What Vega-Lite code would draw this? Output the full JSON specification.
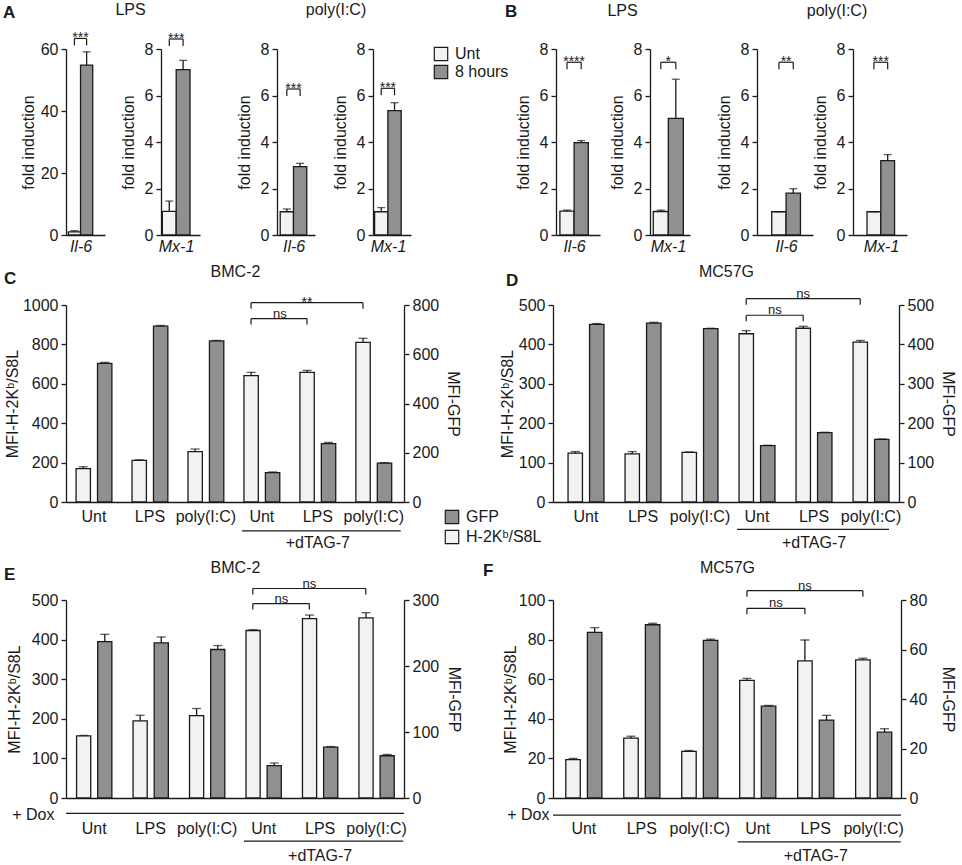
{
"$schema":"https://vega.github.io/schema/vega-lite/v6.json",
"padding":{"left":3,"top":2,"right":2,"bottom":2},
"config":{"font":"Liberation Sans","view":{"stroke":null},
"axis":{"domainColor":"#1a1a1a","domainWidth":1.3,"tickColor":"#1a1a1a","tickWidth":1.3,"tickSize":5,"labelFontSize":16,"labelColor":"#1a1a1a","labelPadding":3,"labelOverlap":false,"titleFontSize":16,"titleFontWeight":"normal","titleColor":"#1a1a1a","grid":false,"labelFont":"Liberation Sans","titleFont":"Liberation Sans"},
"title":{"fontSize":16,"fontWeight":"normal","color":"#1a1a1a","frame":"group","font":"Liberation Sans"},
"legend":{"symbolType":"square","symbolSize":180,"symbolStrokeColor":"#1a1a1a","symbolStrokeWidth":1.2,"labelFontSize":16,"labelColor":"#1a1a1a","labelFont":"Liberation Sans","labelOffset":6},
"text":{"color":"#1a1a1a","font":"Liberation Sans"}},
"datasets":{
"fold":[
{"panel":"A1","treatment":"Unt","value":1.0,"upper":1.4},{"panel":"A1","treatment":"8 hours","value":54.8,"upper":59.1},
{"panel":"A2","treatment":"Unt","value":1.02,"upper":1.46},{"panel":"A2","treatment":"8 hours","value":7.11,"upper":7.51},
{"panel":"A3","treatment":"Unt","value":1.0,"upper":1.12},{"panel":"A3","treatment":"8 hours","value":2.94,"upper":3.08},
{"panel":"A4","treatment":"Unt","value":1.0,"upper":1.18},{"panel":"A4","treatment":"8 hours","value":5.35,"upper":5.69},
{"panel":"B1","treatment":"Unt","value":1.03,"upper":1.07},{"panel":"B1","treatment":"8 hours","value":3.97,"upper":4.06},
{"panel":"B2","treatment":"Unt","value":1.01,"upper":1.07},{"panel":"B2","treatment":"8 hours","value":5.02,"upper":6.7},
{"panel":"B3","treatment":"Unt","value":1.0,"upper":1.0},{"panel":"B3","treatment":"8 hours","value":1.8,"upper":1.99},
{"panel":"B4","treatment":"Unt","value":1.0,"upper":1.0},{"panel":"B4","treatment":"8 hours","value":3.2,"upper":3.46}],
"foldsig":[
{"panel":"A1","from":"Unt","to":"8 hours","y":63.4,"label":"***"},
{"panel":"A2","from":"Unt","to":"8 hours","y":8.43,"label":"***"},
{"panel":"A3","from":"Unt","to":"8 hours","y":6.28,"label":"***"},
{"panel":"A4","from":"Unt","to":"8 hours","y":6.31,"label":"***"},
{"panel":"B1","from":"Unt","to":"8 hours","y":7.43,"label":"****"},
{"panel":"B2","from":"Unt","to":"8 hours","y":7.43,"label":"*"},
{"panel":"B3","from":"Unt","to":"8 hours","y":7.43,"label":"**"},
{"panel":"B4","from":"Unt","to":"8 hours","y":7.43,"label":"***"}],
"mfi":[
{"panel":"C","cond":"Unt","marker":"H-2Kᵇ/S8L","value":169,"upper":179},
{"panel":"C","cond":"LPS","marker":"H-2Kᵇ/S8L","value":211,"upper":214},
{"panel":"C","cond":"poly(I:C)","marker":"H-2Kᵇ/S8L","value":256,"upper":269},
{"panel":"C","cond":"Unt+dTAG-7","marker":"H-2Kᵇ/S8L","value":641,"upper":658},
{"panel":"C","cond":"LPS+dTAG-7","marker":"H-2Kᵇ/S8L","value":658,"upper":668},
{"panel":"C","cond":"poly(I:C)+dTAG-7","marker":"H-2Kᵇ/S8L","value":810,"upper":831},
{"panel":"C","cond":"Unt","marker":"GFP","value":563,"upper":567},
{"panel":"C","cond":"LPS","marker":"GFP","value":714,"upper":717},
{"panel":"C","cond":"poly(I:C)","marker":"GFP","value":654,"upper":656},
{"panel":"C","cond":"Unt+dTAG-7","marker":"GFP","value":119,"upper":122},
{"panel":"C","cond":"LPS+dTAG-7","marker":"GFP","value":237,"upper":242},
{"panel":"C","cond":"poly(I:C)+dTAG-7","marker":"GFP","value":158,"upper":160},
{"panel":"D","cond":"Unt","marker":"H-2Kᵇ/S8L","value":124,"upper":128},
{"panel":"D","cond":"LPS","marker":"H-2Kᵇ/S8L","value":122,"upper":128},
{"panel":"D","cond":"poly(I:C)","marker":"H-2Kᵇ/S8L","value":126,"upper":127},
{"panel":"D","cond":"Unt+dTAG-7","marker":"H-2Kᵇ/S8L","value":427,"upper":435},
{"panel":"D","cond":"LPS+dTAG-7","marker":"H-2Kᵇ/S8L","value":441,"upper":446},
{"panel":"D","cond":"poly(I:C)+dTAG-7","marker":"H-2Kᵇ/S8L","value":406,"upper":410},
{"panel":"D","cond":"Unt","marker":"GFP","value":451,"upper":453},
{"panel":"D","cond":"LPS","marker":"GFP","value":454,"upper":456},
{"panel":"D","cond":"poly(I:C)","marker":"GFP","value":440,"upper":441},
{"panel":"D","cond":"Unt+dTAG-7","marker":"GFP","value":143,"upper":144},
{"panel":"D","cond":"LPS+dTAG-7","marker":"GFP","value":176,"upper":177},
{"panel":"D","cond":"poly(I:C)+dTAG-7","marker":"GFP","value":159,"upper":160},
{"panel":"E","cond":"Unt","marker":"H-2Kᵇ/S8L","value":157,"upper":158},
{"panel":"E","cond":"LPS","marker":"H-2Kᵇ/S8L","value":195,"upper":209},
{"panel":"E","cond":"poly(I:C)","marker":"H-2Kᵇ/S8L","value":208,"upper":226},
{"panel":"E","cond":"Unt+dTAG-7","marker":"H-2Kᵇ/S8L","value":423,"upper":425},
{"panel":"E","cond":"LPS+dTAG-7","marker":"H-2Kᵇ/S8L","value":453,"upper":462},
{"panel":"E","cond":"poly(I:C)+dTAG-7","marker":"H-2Kᵇ/S8L","value":455,"upper":468},
{"panel":"E","cond":"Unt","marker":"GFP","value":237,"upper":248},
{"panel":"E","cond":"LPS","marker":"GFP","value":235,"upper":244},
{"panel":"E","cond":"poly(I:C)","marker":"GFP","value":225,"upper":231},
{"panel":"E","cond":"Unt+dTAG-7","marker":"GFP","value":49,"upper":53},
{"panel":"E","cond":"LPS+dTAG-7","marker":"GFP","value":77,"upper":78},
{"panel":"E","cond":"poly(I:C)+dTAG-7","marker":"GFP","value":64,"upper":66},
{"panel":"F","cond":"Unt","marker":"H-2Kᵇ/S8L","value":19.4,"upper":20},
{"panel":"F","cond":"LPS","marker":"H-2Kᵇ/S8L","value":30.2,"upper":31.2},
{"panel":"F","cond":"poly(I:C)","marker":"H-2Kᵇ/S8L","value":23.5,"upper":24},
{"panel":"F","cond":"Unt+dTAG-7","marker":"H-2Kᵇ/S8L","value":59.4,"upper":60.4},
{"panel":"F","cond":"LPS+dTAG-7","marker":"H-2Kᵇ/S8L","value":69.3,"upper":79.8},
{"panel":"F","cond":"poly(I:C)+dTAG-7","marker":"H-2Kᵇ/S8L","value":69.8,"upper":70.6},
{"panel":"F","cond":"Unt","marker":"GFP","value":66.9,"upper":68.8},
{"panel":"F","cond":"LPS","marker":"GFP","value":70,"upper":70.6},
{"panel":"F","cond":"poly(I:C)","marker":"GFP","value":63.7,"upper":64.2},
{"panel":"F","cond":"Unt+dTAG-7","marker":"GFP","value":37.1,"upper":37.4},
{"panel":"F","cond":"LPS+dTAG-7","marker":"GFP","value":31.5,"upper":33.4},
{"panel":"F","cond":"poly(I:C)+dTAG-7","marker":"GFP","value":26.6,"upper":28}],
"mfisig":[
{"panel":"C","kind":"wide","from":"Unt+dTAG-7","to":"poly(I:C)+dTAG-7","mid":"LPS+dTAG-7","y":1012,"label":"**"},
{"panel":"C","kind":"narrow","from":"Unt+dTAG-7","to":"LPS+dTAG-7","mid":"Unt+dTAG-7","y":931,"label":"ns"},
{"panel":"D","kind":"wide","from":"Unt+dTAG-7","to":"poly(I:C)+dTAG-7","mid":"LPS+dTAG-7","y":516,"label":"ns"},
{"panel":"D","kind":"narrow","from":"Unt+dTAG-7","to":"LPS+dTAG-7","mid":"Unt+dTAG-7","y":474,"label":"ns"},
{"panel":"E","kind":"wide","from":"Unt+dTAG-7","to":"poly(I:C)+dTAG-7","mid":"LPS+dTAG-7","y":529,"label":"ns"},
{"panel":"E","kind":"narrow","from":"Unt+dTAG-7","to":"LPS+dTAG-7","mid":"Unt+dTAG-7","y":491,"label":"ns"},
{"panel":"F","kind":"wide","from":"Unt+dTAG-7","to":"poly(I:C)+dTAG-7","mid":"LPS+dTAG-7","y":104.7,"label":"ns"},
{"panel":"F","kind":"narrow","from":"Unt+dTAG-7","to":"LPS+dTAG-7","mid":"Unt+dTAG-7","y":95.8,"label":"ns"}]
},
"spacing":9,
"resolve":{"scale":{"color":"independent","xOffset":"independent"},"legend":{"color":"independent"}},
"vconcat":[
{"bounds":"flush","spacing":40,"resolve":{"scale":{"color":"independent"},"legend":{"color":"independent"}},"hconcat":[
   {"width":55,"height":186,"title":{"text":"A","anchor":"start","align":"left","dx":-63,"fontWeight":"bold","fontSize":17,"offset":9},"layer":[
    {"data":{"name":"fold"},"transform":[{"filter":"datum.panel == 'A1'"}],"mark":{"type":"bar","stroke":"#1a1a1a","strokeWidth":1.3},"encoding":{"x":{"field":"treatment","type":"nominal","scale":{"domain":["Unt","8 hours"],"range":[0,39],"paddingInner":0,"paddingOuter":0.6,"align":0.16},"axis":{"labels":false,"ticks":false,"title":"Il-6","titleFontStyle":"italic","titleX":14.5,"titlePadding":3}},"y":{"field":"value","type":"quantitative","scale":{"domain":[0,60]},"axis":{"values":[0,20,40,60],"tickCount":12,"format":"d","title":"fold induction","titlePadding":4}},"color":{"field":"treatment","type":"nominal","scale":{"domain":["Unt","8 hours"],"range":["#f2f2f2","#909090"]},"legend":null}}},
    {"data":{"name":"fold"},"transform":[{"filter":"datum.panel == 'A1'"}],"mark":{"type":"rule","color":"#1a1a1a","strokeWidth":1.3},"encoding":{"x":{"field":"treatment","type":"nominal"},"y":{"field":"value","type":"quantitative"},"y2":{"field":"upper"}}},
    {"data":{"name":"fold"},"transform":[{"filter":"datum.panel == 'A1'"}],"mark":{"type":"tick","color":"#1a1a1a","size":8,"thickness":1.3},"encoding":{"x":{"field":"treatment","type":"nominal"},"y":{"field":"upper","type":"quantitative"}}},
    {"data":{"name":"foldsig"},"transform":[{"filter":"datum.panel == 'A1'"}],"mark":{"type":"rule","color":"#1a1a1a","strokeWidth":1.2},"encoding":{"x":{"field":"from","type":"nominal"},"x2":{"field":"to"},"y":{"field":"y","type":"quantitative"}}},
    {"data":{"name":"foldsig"},"transform":[{"filter":"datum.panel == 'A1'"},{"fold":["from","to"],"as":["end","pos"]}],"mark":{"type":"rule","color":"#1a1a1a","strokeWidth":1.2,"y2Offset":7},"encoding":{"x":{"field":"pos","type":"nominal"},"y":{"field":"y","type":"quantitative"},"y2":{"field":"y"}}},
    {"data":{"name":"foldsig"},"transform":[{"filter":"datum.panel == 'A1'"}],"mark":{"type":"text","fontSize":14,"color":"#1a1a1a"},"encoding":{"x":{"field":"from","type":"nominal","bandPosition":1},"y":{"field":"y","type":"quantitative"},"text":{"field":"label"}}}
   ]},
   {"width":76,"height":186,"title":{"text":"LPS","anchor":"start","align":"center","dx":-30.5,"offset":14},"layer":[
    {"data":{"name":"fold"},"transform":[{"filter":"datum.panel == 'A2'"}],"mark":{"type":"bar","stroke":"#1a1a1a","strokeWidth":1.3},"encoding":{"x":{"field":"treatment","type":"nominal","scale":{"domain":["Unt","8 hours"],"range":[0,39],"paddingInner":0,"paddingOuter":0.41,"align":0.12},"axis":{"labels":false,"ticks":false,"title":"Mx-1","titleFontStyle":"italic","titleX":15,"titlePadding":3}},"y":{"field":"value","type":"quantitative","scale":{"domain":[0,8]},"axis":{"values":[0,2,4,6,8],"tickCount":12,"format":"d","title":"fold induction","titlePadding":8}},"color":{"field":"treatment","type":"nominal","scale":{"domain":["Unt","8 hours"],"range":["#f2f2f2","#909090"]},"legend":null}}},
    {"data":{"name":"fold"},"transform":[{"filter":"datum.panel == 'A2'"}],"mark":{"type":"rule","color":"#1a1a1a","strokeWidth":1.3},"encoding":{"x":{"field":"treatment","type":"nominal"},"y":{"field":"value","type":"quantitative"},"y2":{"field":"upper"}}},
    {"data":{"name":"fold"},"transform":[{"filter":"datum.panel == 'A2'"}],"mark":{"type":"tick","color":"#1a1a1a","size":8,"thickness":1.3},"encoding":{"x":{"field":"treatment","type":"nominal"},"y":{"field":"upper","type":"quantitative"}}},
    {"data":{"name":"foldsig"},"transform":[{"filter":"datum.panel == 'A2'"}],"mark":{"type":"rule","color":"#1a1a1a","strokeWidth":1.2},"encoding":{"x":{"field":"from","type":"nominal"},"x2":{"field":"to"},"y":{"field":"y","type":"quantitative"}}},
    {"data":{"name":"foldsig"},"transform":[{"filter":"datum.panel == 'A2'"},{"fold":["from","to"],"as":["end","pos"]}],"mark":{"type":"rule","color":"#1a1a1a","strokeWidth":1.2,"y2Offset":7},"encoding":{"x":{"field":"pos","type":"nominal"},"y":{"field":"y","type":"quantitative"},"y2":{"field":"y"}}},
    {"data":{"name":"foldsig"},"transform":[{"filter":"datum.panel == 'A2'"}],"mark":{"type":"text","fontSize":14,"color":"#1a1a1a"},"encoding":{"x":{"field":"from","type":"nominal","bandPosition":1},"y":{"field":"y","type":"quantitative"},"text":{"field":"label"}}}
   ]},
   {"width":56,"height":186,"title":{"text":"poly(I:C)","anchor":"start","align":"center","dx":59,"offset":23},"layer":[
    {"data":{"name":"fold"},"transform":[{"filter":"datum.panel == 'A3'"}],"mark":{"type":"bar","stroke":"#1a1a1a","strokeWidth":1.3},"encoding":{"x":{"field":"treatment","type":"nominal","scale":{"domain":["Unt","8 hours"],"range":[0,38],"paddingInner":0,"paddingOuter":0.43,"align":0.28},"axis":{"labels":false,"ticks":false,"title":"Il-6","titleFontStyle":"italic","titleX":16.6,"titlePadding":3}},"y":{"field":"value","type":"quantitative","scale":{"domain":[0,8]},"axis":{"values":[0,2,4,6,8],"tickCount":12,"format":"d","title":"fold induction","titlePadding":8}},"color":{"field":"treatment","type":"nominal","scale":{"domain":["Unt","8 hours"],"range":["#f2f2f2","#909090"]},"legend":null}}},
    {"data":{"name":"fold"},"transform":[{"filter":"datum.panel == 'A3'"}],"mark":{"type":"rule","color":"#1a1a1a","strokeWidth":1.3},"encoding":{"x":{"field":"treatment","type":"nominal"},"y":{"field":"value","type":"quantitative"},"y2":{"field":"upper"}}},
    {"data":{"name":"fold"},"transform":[{"filter":"datum.panel == 'A3'"}],"mark":{"type":"tick","color":"#1a1a1a","size":8,"thickness":1.3},"encoding":{"x":{"field":"treatment","type":"nominal"},"y":{"field":"upper","type":"quantitative"}}},
    {"data":{"name":"foldsig"},"transform":[{"filter":"datum.panel == 'A3'"}],"mark":{"type":"rule","color":"#1a1a1a","strokeWidth":1.2},"encoding":{"x":{"field":"from","type":"nominal"},"x2":{"field":"to"},"y":{"field":"y","type":"quantitative"}}},
    {"data":{"name":"foldsig"},"transform":[{"filter":"datum.panel == 'A3'"},{"fold":["from","to"],"as":["end","pos"]}],"mark":{"type":"rule","color":"#1a1a1a","strokeWidth":1.2,"y2Offset":7},"encoding":{"x":{"field":"pos","type":"nominal"},"y":{"field":"y","type":"quantitative"},"y2":{"field":"y"}}},
    {"data":{"name":"foldsig"},"transform":[{"filter":"datum.panel == 'A3'"}],"mark":{"type":"text","fontSize":14,"color":"#1a1a1a"},"encoding":{"x":{"field":"from","type":"nominal","bandPosition":1},"y":{"field":"y","type":"quantitative"},"text":{"field":"label"}}}
   ]},
   {"width":143,"height":186,"layer":[
    {"data":{"name":"fold"},"transform":[{"filter":"datum.panel == 'A4'"}],"mark":{"type":"bar","stroke":"#1a1a1a","strokeWidth":1.3},"encoding":{"x":{"field":"treatment","type":"nominal","scale":{"domain":["Unt","8 hours"],"range":[0,38],"paddingInner":0,"paddingOuter":0.43,"align":0.14},"axis":{"labels":false,"ticks":false,"title":"Mx-1","titleFontStyle":"italic","titleX":15,"titlePadding":3}},"y":{"field":"value","type":"quantitative","scale":{"domain":[0,8]},"axis":{"values":[0,2,4,6,8],"tickCount":12,"format":"d","title":"fold induction","titlePadding":8}},"color":{"field":"treatment","type":"nominal","scale":{"domain":["Unt","8 hours"],"range":["#f2f2f2","#909090"]},"legend":{"orient":"none","legendX":60,"legendY":-3,"title":null,"rowPadding":-3}}}},
    {"data":{"name":"fold"},"transform":[{"filter":"datum.panel == 'A4'"}],"mark":{"type":"rule","color":"#1a1a1a","strokeWidth":1.3},"encoding":{"x":{"field":"treatment","type":"nominal"},"y":{"field":"value","type":"quantitative"},"y2":{"field":"upper"}}},
    {"data":{"name":"fold"},"transform":[{"filter":"datum.panel == 'A4'"}],"mark":{"type":"tick","color":"#1a1a1a","size":8,"thickness":1.3},"encoding":{"x":{"field":"treatment","type":"nominal"},"y":{"field":"upper","type":"quantitative"}}},
    {"data":{"name":"foldsig"},"transform":[{"filter":"datum.panel == 'A4'"}],"mark":{"type":"rule","color":"#1a1a1a","strokeWidth":1.2},"encoding":{"x":{"field":"from","type":"nominal"},"x2":{"field":"to"},"y":{"field":"y","type":"quantitative"}}},
    {"data":{"name":"foldsig"},"transform":[{"filter":"datum.panel == 'A4'"},{"fold":["from","to"],"as":["end","pos"]}],"mark":{"type":"rule","color":"#1a1a1a","strokeWidth":1.2,"y2Offset":7},"encoding":{"x":{"field":"pos","type":"nominal"},"y":{"field":"y","type":"quantitative"},"y2":{"field":"y"}}},
    {"data":{"name":"foldsig"},"transform":[{"filter":"datum.panel == 'A4'"}],"mark":{"type":"text","fontSize":14,"color":"#1a1a1a"},"encoding":{"x":{"field":"from","type":"nominal","bandPosition":1},"y":{"field":"y","type":"quantitative"},"text":{"field":"label"}}}
   ]},
   {"width":54,"height":186,"title":{"text":"B","anchor":"start","align":"left","dx":-51,"fontWeight":"bold","fontSize":17,"offset":20},"layer":[
    {"data":{"name":"fold"},"transform":[{"filter":"datum.panel == 'B1'"}],"mark":{"type":"bar","stroke":"#1a1a1a","strokeWidth":1.3},"encoding":{"x":{"field":"treatment","type":"nominal","scale":{"domain":["Unt","8 hours"],"range":[0,44],"paddingInner":0,"paddingOuter":0.55,"align":0.25},"axis":{"labels":false,"ticks":false,"title":"Il-6","titleFontStyle":"italic","titleX":18,"titlePadding":3}},"y":{"field":"value","type":"quantitative","scale":{"domain":[0,8]},"axis":{"values":[0,2,4,6,8],"tickCount":12,"format":"d","title":"fold induction","titlePadding":8}},"color":{"field":"treatment","type":"nominal","scale":{"domain":["Unt","8 hours"],"range":["#f2f2f2","#909090"]},"legend":null}}},
    {"data":{"name":"fold"},"transform":[{"filter":"datum.panel == 'B1'"}],"mark":{"type":"rule","color":"#1a1a1a","strokeWidth":1.3},"encoding":{"x":{"field":"treatment","type":"nominal"},"y":{"field":"value","type":"quantitative"},"y2":{"field":"upper"}}},
    {"data":{"name":"fold"},"transform":[{"filter":"datum.panel == 'B1'"}],"mark":{"type":"tick","color":"#1a1a1a","size":8,"thickness":1.3},"encoding":{"x":{"field":"treatment","type":"nominal"},"y":{"field":"upper","type":"quantitative"}}},
    {"data":{"name":"foldsig"},"transform":[{"filter":"datum.panel == 'B1'"}],"mark":{"type":"rule","color":"#1a1a1a","strokeWidth":1.2},"encoding":{"x":{"field":"from","type":"nominal"},"x2":{"field":"to"},"y":{"field":"y","type":"quantitative"}}},
    {"data":{"name":"foldsig"},"transform":[{"filter":"datum.panel == 'B1'"},{"fold":["from","to"],"as":["end","pos"]}],"mark":{"type":"rule","color":"#1a1a1a","strokeWidth":1.2,"y2Offset":7},"encoding":{"x":{"field":"pos","type":"nominal"},"y":{"field":"y","type":"quantitative"},"y2":{"field":"y"}}},
    {"data":{"name":"foldsig"},"transform":[{"filter":"datum.panel == 'B1'"}],"mark":{"type":"text","fontSize":14,"color":"#1a1a1a"},"encoding":{"x":{"field":"from","type":"nominal","bandPosition":1},"y":{"field":"y","type":"quantitative"},"text":{"field":"label"}}}
   ]},
   {"width":67,"height":186,"title":{"text":"LPS","anchor":"start","align":"center","dx":-27.5,"offset":22.5},"layer":[
    {"data":{"name":"fold"},"transform":[{"filter":"datum.panel == 'B2'"}],"mark":{"type":"bar","stroke":"#1a1a1a","strokeWidth":1.3},"encoding":{"x":{"field":"treatment","type":"nominal","scale":{"domain":["Unt","8 hours"],"range":[0,40],"paddingInner":0,"paddingOuter":0.33,"align":0.33},"axis":{"labels":false,"ticks":false,"title":"Mx-1","titleFontStyle":"italic","titleX":18,"titlePadding":3}},"y":{"field":"value","type":"quantitative","scale":{"domain":[0,8]},"axis":{"values":[0,2,4,6,8],"tickCount":12,"format":"d","title":"fold induction","titlePadding":8}},"color":{"field":"treatment","type":"nominal","scale":{"domain":["Unt","8 hours"],"range":["#f2f2f2","#909090"]},"legend":null}}},
    {"data":{"name":"fold"},"transform":[{"filter":"datum.panel == 'B2'"}],"mark":{"type":"rule","color":"#1a1a1a","strokeWidth":1.3},"encoding":{"x":{"field":"treatment","type":"nominal"},"y":{"field":"value","type":"quantitative"},"y2":{"field":"upper"}}},
    {"data":{"name":"fold"},"transform":[{"filter":"datum.panel == 'B2'"}],"mark":{"type":"tick","color":"#1a1a1a","size":8,"thickness":1.3},"encoding":{"x":{"field":"treatment","type":"nominal"},"y":{"field":"upper","type":"quantitative"}}},
    {"data":{"name":"foldsig"},"transform":[{"filter":"datum.panel == 'B2'"}],"mark":{"type":"rule","color":"#1a1a1a","strokeWidth":1.2},"encoding":{"x":{"field":"from","type":"nominal"},"x2":{"field":"to"},"y":{"field":"y","type":"quantitative"}}},
    {"data":{"name":"foldsig"},"transform":[{"filter":"datum.panel == 'B2'"},{"fold":["from","to"],"as":["end","pos"]}],"mark":{"type":"rule","color":"#1a1a1a","strokeWidth":1.2,"y2Offset":7},"encoding":{"x":{"field":"pos","type":"nominal"},"y":{"field":"y","type":"quantitative"},"y2":{"field":"y"}}},
    {"data":{"name":"foldsig"},"transform":[{"filter":"datum.panel == 'B2'"}],"mark":{"type":"text","fontSize":14,"color":"#1a1a1a"},"encoding":{"x":{"field":"from","type":"nominal","bandPosition":1},"y":{"field":"y","type":"quantitative"},"text":{"field":"label"}}}
   ]},
   {"width":56,"height":186,"title":{"text":"poly(I:C)","anchor":"start","align":"center","dx":80,"offset":22.5},"layer":[
    {"data":{"name":"fold"},"transform":[{"filter":"datum.panel == 'B3'"}],"mark":{"type":"bar","stroke":"#1a1a1a","strokeWidth":1.3},"encoding":{"x":{"field":"treatment","type":"nominal","scale":{"domain":["Unt","8 hours"],"range":[0,56],"paddingInner":0,"paddingOuter":0.95,"align":0.54},"axis":{"labels":false,"ticks":false,"title":"Il-6","titleFontStyle":"italic","titleX":29,"titlePadding":3}},"y":{"field":"value","type":"quantitative","scale":{"domain":[0,8]},"axis":{"values":[0,2,4,6,8],"tickCount":12,"format":"d","title":"fold induction","titlePadding":8}},"color":{"field":"treatment","type":"nominal","scale":{"domain":["Unt","8 hours"],"range":["#f2f2f2","#909090"]},"legend":null}}},
    {"data":{"name":"fold"},"transform":[{"filter":"datum.panel == 'B3'"}],"mark":{"type":"rule","color":"#1a1a1a","strokeWidth":1.3},"encoding":{"x":{"field":"treatment","type":"nominal"},"y":{"field":"value","type":"quantitative"},"y2":{"field":"upper"}}},
    {"data":{"name":"fold"},"transform":[{"filter":"datum.panel == 'B3'"}],"mark":{"type":"tick","color":"#1a1a1a","size":8,"thickness":1.3},"encoding":{"x":{"field":"treatment","type":"nominal"},"y":{"field":"upper","type":"quantitative"}}},
    {"data":{"name":"foldsig"},"transform":[{"filter":"datum.panel == 'B3'"}],"mark":{"type":"rule","color":"#1a1a1a","strokeWidth":1.2},"encoding":{"x":{"field":"from","type":"nominal"},"x2":{"field":"to"},"y":{"field":"y","type":"quantitative"}}},
    {"data":{"name":"foldsig"},"transform":[{"filter":"datum.panel == 'B3'"},{"fold":["from","to"],"as":["end","pos"]}],"mark":{"type":"rule","color":"#1a1a1a","strokeWidth":1.2,"y2Offset":7},"encoding":{"x":{"field":"pos","type":"nominal"},"y":{"field":"y","type":"quantitative"},"y2":{"field":"y"}}},
    {"data":{"name":"foldsig"},"transform":[{"filter":"datum.panel == 'B3'"}],"mark":{"type":"text","fontSize":14,"color":"#1a1a1a"},"encoding":{"x":{"field":"from","type":"nominal","bandPosition":1},"y":{"field":"y","type":"quantitative"},"text":{"field":"label"}}}
   ]},
   {"width":54,"height":186,"layer":[
    {"data":{"name":"fold"},"transform":[{"filter":"datum.panel == 'B4'"}],"mark":{"type":"bar","stroke":"#1a1a1a","strokeWidth":1.3},"encoding":{"x":{"field":"treatment","type":"nominal","scale":{"domain":["Unt","8 hours"],"range":[0,54],"paddingInner":0,"paddingOuter":0.96,"align":0.53},"axis":{"labels":false,"ticks":false,"title":"Mx-1","titleFontStyle":"italic","titleX":28,"titlePadding":3}},"y":{"field":"value","type":"quantitative","scale":{"domain":[0,8]},"axis":{"values":[0,2,4,6,8],"tickCount":12,"format":"d","title":"fold induction","titlePadding":8}},"color":{"field":"treatment","type":"nominal","scale":{"domain":["Unt","8 hours"],"range":["#f2f2f2","#909090"]},"legend":null}}},
    {"data":{"name":"fold"},"transform":[{"filter":"datum.panel == 'B4'"}],"mark":{"type":"rule","color":"#1a1a1a","strokeWidth":1.3},"encoding":{"x":{"field":"treatment","type":"nominal"},"y":{"field":"value","type":"quantitative"},"y2":{"field":"upper"}}},
    {"data":{"name":"fold"},"transform":[{"filter":"datum.panel == 'B4'"}],"mark":{"type":"tick","color":"#1a1a1a","size":8,"thickness":1.3},"encoding":{"x":{"field":"treatment","type":"nominal"},"y":{"field":"upper","type":"quantitative"}}},
    {"data":{"name":"foldsig"},"transform":[{"filter":"datum.panel == 'B4'"}],"mark":{"type":"rule","color":"#1a1a1a","strokeWidth":1.2},"encoding":{"x":{"field":"from","type":"nominal"},"x2":{"field":"to"},"y":{"field":"y","type":"quantitative"}}},
    {"data":{"name":"foldsig"},"transform":[{"filter":"datum.panel == 'B4'"},{"fold":["from","to"],"as":["end","pos"]}],"mark":{"type":"rule","color":"#1a1a1a","strokeWidth":1.2,"y2Offset":7},"encoding":{"x":{"field":"pos","type":"nominal"},"y":{"field":"y","type":"quantitative"},"y2":{"field":"y"}}},
    {"data":{"name":"foldsig"},"transform":[{"filter":"datum.panel == 'B4'"}],"mark":{"type":"text","fontSize":14,"color":"#1a1a1a"},"encoding":{"x":{"field":"from","type":"nominal","bandPosition":1},"y":{"field":"y","type":"quantitative"},"text":{"field":"label"}}}
   ]}
]},
{"columns":2,"bounds":"flush","spacing":{"row":98,"column":149},"resolve":{"scale":{"color":"independent","xOffset":"independent"},"legend":{"color":"independent"}},"concat":[
   {"width":338,"height":197,"title":{"text":"C","anchor":"start","align":"left","dx":-62,"fontWeight":"bold","fontSize":17,"offset":-25},"resolve":{"scale":{"y":"independent"},"axis":{"x":"independent"}},"layer":[
    {"layer":[
     {"data":{"name":"mfi"},"transform":[{"filter":"datum.panel == 'C' && datum.marker != 'GFP'"}],"mark":{"type":"bar","stroke":"#1a1a1a","strokeWidth":1.3},"encoding":{
      "x":{"field":"cond","type":"nominal","scale":{"domain":["Unt","LPS","poly(I:C)","Unt+dTAG-7","LPS+dTAG-7","poly(I:C)+dTAG-7"],"paddingInner":0.36,"paddingOuter":0.2,"align":0.45},"axis":{"title":null,"ticks":false,"labelAngle":0,"labelOverlap":false,"labelPadding":6,"labelExpr":"replace(datum.label, '+dTAG-7', '')"}},
      "xOffset":{"field":"marker","type":"nominal","scale":{"domain":["H-2Kᵇ/S8L","GFP"],"paddingInner":0.33}},
      "y":{"field":"value","type":"quantitative","scale":{"domain":[0,1000]},"axis":{"orient":"left","values":[0,200,400,600,800,1000],"tickCount":12,"format":"d","title":"MFI-H-2Kᵇ/S8L","titlePadding":2}},
      "color":{"field":"marker","type":"nominal","scale":{"domain":["GFP","H-2Kᵇ/S8L"],"range":["#909090","#f2f2f2"]},"legend":{"orient":"none","legendX":378,"legendY":204,"title":null,"rowPadding":0}}}},
     {"data":{"name":"mfi"},"transform":[{"filter":"datum.panel == 'C' && datum.marker != 'GFP'"}],"mark":{"type":"rule","color":"#1a1a1a","strokeWidth":1.3},"encoding":{"x":{"field":"cond","type":"nominal"},"xOffset":{"field":"marker","type":"nominal"},"y":{"field":"value","type":"quantitative"},"y2":{"field":"upper"}}},
     {"data":{"name":"mfi"},"transform":[{"filter":"datum.panel == 'C' && datum.marker != 'GFP'"}],"mark":{"type":"tick","color":"#1a1a1a","size":9,"thickness":1.3},"encoding":{"x":{"field":"cond","type":"nominal"},"xOffset":{"field":"marker","type":"nominal"},"y":{"field":"upper","type":"quantitative"}}},
     {"data":{"name":"mfisig"},"transform":[{"filter":"datum.panel == 'C'"}],"mark":{"type":"rule","color":"#1a1a1a","strokeWidth":1.2,"xOffset":-10.8,"x2Offset":-10.8},"encoding":{"x":{"field":"from","type":"nominal"},"x2":{"field":"to"},"y":{"field":"y","type":"quantitative"}}},
     {"data":{"name":"mfisig"},"transform":[{"filter":"datum.panel == 'C'"},{"fold":["from","to"],"as":["end","pos"]}],"mark":{"type":"rule","color":"#1a1a1a","strokeWidth":1.2,"xOffset":-10.8,"y2Offset":6},"encoding":{"x":{"field":"pos","type":"nominal"},"y":{"field":"y","type":"quantitative"},"y2":{"field":"y"}}},
     {"data":{"name":"mfisig"},"transform":[{"filter":"datum.panel == 'C' && datum.kind == 'narrow'"}],"mark":{"type":"text","fontSize":13,"dy":-5,"color":"#1a1a1a"},"encoding":{"x":{"field":"from","type":"nominal","bandPosition":1},"y":{"field":"y","type":"quantitative"},"text":{"field":"label"}}},
     {"data":{"name":"mfisig"},"transform":[{"filter":"datum.panel == 'C' && datum.kind == 'wide'"}],"mark":{"type":"text","fontSize":14,"dy":0,"xOffset":-10.8,"color":"#1a1a1a"},"encoding":{"x":{"field":"mid","type":"nominal"},"y":{"field":"y","type":"quantitative"},"text":{"field":"label"}}},
     {"data":{"values":[{}]},"mark":{"type":"rule","color":"#1a1a1a","strokeWidth":1.3,"xOffset":-2,"x2Offset":9},"encoding":{"x":{"datum":"Unt+dTAG-7","type":"nominal","bandPosition":0},"x2":{"datum":"poly(I:C)+dTAG-7","bandPosition":1},"y":{"datum":-147,"type":"quantitative"}}},
     {"data":{"values":[{}]},"mark":{"type":"text","fontSize":16,"color":"#1a1a1a","text":"+dTAG-7"},"encoding":{"x":{"datum":"LPS+dTAG-7","type":"nominal"},"y":{"datum":-207,"type":"quantitative"}}}
    ]},
    {"layer":[
     {"data":{"name":"mfi"},"transform":[{"filter":"datum.panel == 'C' && datum.marker == 'GFP'"}],"mark":{"type":"bar","stroke":"#1a1a1a","strokeWidth":1.3},"encoding":{
      "x":{"field":"cond","type":"nominal","axis":{"orient":"top","title":"BMC-2","labels":false,"ticks":false,"domain":false,"titlePadding":26}},
      "xOffset":{"field":"marker","type":"nominal"},
      "y":{"field":"value","type":"quantitative","scale":{"domain":[0,800]},"axis":{"orient":"right","values":[0,200,400,600,800],"tickCount":12,"format":"d","title":"MFI-GFP","titlePadding":6}},
      "color":{"field":"marker","type":"nominal","scale":{"domain":["GFP","H-2Kᵇ/S8L"],"range":["#909090","#f2f2f2"]},"legend":{"orient":"none","legendX":378,"legendY":204,"title":null,"rowPadding":0}}}},
     {"data":{"name":"mfi"},"transform":[{"filter":"datum.panel == 'C' && datum.marker == 'GFP'"}],"mark":{"type":"rule","color":"#1a1a1a","strokeWidth":1.3},"encoding":{"x":{"field":"cond","type":"nominal"},"xOffset":{"field":"marker","type":"nominal"},"y":{"field":"value","type":"quantitative"},"y2":{"field":"upper"}}},
     {"data":{"name":"mfi"},"transform":[{"filter":"datum.panel == 'C' && datum.marker == 'GFP'"}],"mark":{"type":"tick","color":"#1a1a1a","size":9,"thickness":1.3},"encoding":{"x":{"field":"cond","type":"nominal"},"xOffset":{"field":"marker","type":"nominal"},"y":{"field":"upper","type":"quantitative"}}}
    ]}
   ]},
   {"width":346,"height":197,"title":{"text":"D","anchor":"start","align":"left","dx":-47,"fontWeight":"bold","fontSize":17,"offset":-27},"resolve":{"scale":{"y":"independent"},"axis":{"x":"independent"}},"layer":[
    {"layer":[
     {"data":{"name":"mfi"},"transform":[{"filter":"datum.panel == 'D' && datum.marker != 'GFP'"}],"mark":{"type":"bar","stroke":"#1a1a1a","strokeWidth":1.3},"encoding":{
      "x":{"field":"cond","type":"nominal","scale":{"domain":["Unt","LPS","poly(I:C)","Unt+dTAG-7","LPS+dTAG-7","poly(I:C)+dTAG-7"],"paddingInner":0.37,"paddingOuter":0.22,"align":0.6},"axis":{"title":null,"ticks":false,"labelAngle":0,"labelOverlap":false,"labelPadding":6,"labelExpr":"replace(datum.label, '+dTAG-7', '')"}},
      "xOffset":{"field":"marker","type":"nominal","scale":{"domain":["H-2Kᵇ/S8L","GFP"],"paddingInner":0.33}},
      "y":{"field":"value","type":"quantitative","scale":{"domain":[0,500]},"axis":{"orient":"left","values":[0,100,200,300,400,500],"tickCount":12,"format":"d","title":"MFI-H-2Kᵇ/S8L","titlePadding":3}},
      "color":{"field":"marker","type":"nominal","scale":{"domain":["GFP","H-2Kᵇ/S8L"],"range":["#909090","#f2f2f2"]},"legend":null}}},
     {"data":{"name":"mfi"},"transform":[{"filter":"datum.panel == 'D' && datum.marker != 'GFP'"}],"mark":{"type":"rule","color":"#1a1a1a","strokeWidth":1.3},"encoding":{"x":{"field":"cond","type":"nominal"},"xOffset":{"field":"marker","type":"nominal"},"y":{"field":"value","type":"quantitative"},"y2":{"field":"upper"}}},
     {"data":{"name":"mfi"},"transform":[{"filter":"datum.panel == 'D' && datum.marker != 'GFP'"}],"mark":{"type":"tick","color":"#1a1a1a","size":9,"thickness":1.3},"encoding":{"x":{"field":"cond","type":"nominal"},"xOffset":{"field":"marker","type":"nominal"},"y":{"field":"upper","type":"quantitative"}}},
     {"data":{"name":"mfisig"},"transform":[{"filter":"datum.panel == 'D'"}],"mark":{"type":"rule","color":"#1a1a1a","strokeWidth":1.2,"xOffset":-10.8,"x2Offset":-10.8},"encoding":{"x":{"field":"from","type":"nominal"},"x2":{"field":"to"},"y":{"field":"y","type":"quantitative"}}},
     {"data":{"name":"mfisig"},"transform":[{"filter":"datum.panel == 'D'"},{"fold":["from","to"],"as":["end","pos"]}],"mark":{"type":"rule","color":"#1a1a1a","strokeWidth":1.2,"xOffset":-10.8,"y2Offset":6},"encoding":{"x":{"field":"pos","type":"nominal"},"y":{"field":"y","type":"quantitative"},"y2":{"field":"y"}}},
     {"data":{"name":"mfisig"},"transform":[{"filter":"datum.panel == 'D' && datum.kind == 'narrow'"}],"mark":{"type":"text","fontSize":13,"dy":-5,"color":"#1a1a1a"},"encoding":{"x":{"field":"from","type":"nominal","bandPosition":1},"y":{"field":"y","type":"quantitative"},"text":{"field":"label"}}},
     {"data":{"name":"mfisig"},"transform":[{"filter":"datum.panel == 'D' && datum.kind == 'wide'"}],"mark":{"type":"text","fontSize":13,"dy":-5,"xOffset":-10.8,"color":"#1a1a1a"},"encoding":{"x":{"field":"mid","type":"nominal"},"y":{"field":"y","type":"quantitative"},"text":{"field":"label"}}},
     {"data":{"values":[{}]},"mark":{"type":"rule","color":"#1a1a1a","strokeWidth":1.3,"xOffset":-2,"x2Offset":0},"encoding":{"x":{"datum":"Unt+dTAG-7","type":"nominal","bandPosition":0},"x2":{"datum":"poly(I:C)+dTAG-7","bandPosition":1},"y":{"datum":-69.3,"type":"quantitative"}}},
     {"data":{"values":[{}]},"mark":{"type":"text","fontSize":16,"color":"#1a1a1a","text":"+dTAG-7"},"encoding":{"x":{"datum":"LPS+dTAG-7","type":"nominal"},"y":{"datum":-104,"type":"quantitative"}}}
    ]},
    {"layer":[
     {"data":{"name":"mfi"},"transform":[{"filter":"datum.panel == 'D' && datum.marker == 'GFP'"}],"mark":{"type":"bar","stroke":"#1a1a1a","strokeWidth":1.3},"encoding":{
      "x":{"field":"cond","type":"nominal","axis":{"orient":"top","title":"MC57G","labels":false,"ticks":false,"domain":false,"titlePadding":26}},
      "xOffset":{"field":"marker","type":"nominal"},
      "y":{"field":"value","type":"quantitative","scale":{"domain":[0,500]},"axis":{"orient":"right","values":[0,100,200,300,400,500],"tickCount":12,"format":"d","title":"MFI-GFP","titlePadding":6}},
      "color":{"field":"marker","type":"nominal","scale":{"domain":["GFP","H-2Kᵇ/S8L"],"range":["#909090","#f2f2f2"]},"legend":null}}},
     {"data":{"name":"mfi"},"transform":[{"filter":"datum.panel == 'D' && datum.marker == 'GFP'"}],"mark":{"type":"rule","color":"#1a1a1a","strokeWidth":1.3},"encoding":{"x":{"field":"cond","type":"nominal"},"xOffset":{"field":"marker","type":"nominal"},"y":{"field":"value","type":"quantitative"},"y2":{"field":"upper"}}},
     {"data":{"name":"mfi"},"transform":[{"filter":"datum.panel == 'D' && datum.marker == 'GFP'"}],"mark":{"type":"tick","color":"#1a1a1a","size":9,"thickness":1.3},"encoding":{"x":{"field":"cond","type":"nominal"},"xOffset":{"field":"marker","type":"nominal"},"y":{"field":"upper","type":"quantitative"}}}
    ]}
   ]},
   {"width":338,"height":198,"title":{"text":"E","anchor":"start","align":"left","dx":-62,"fontWeight":"bold","fontSize":17,"offset":-24.5},"resolve":{"scale":{"y":"independent"},"axis":{"x":"independent"}},"layer":[
    {"layer":[
     {"data":{"name":"mfi"},"transform":[{"filter":"datum.panel == 'E' && datum.marker != 'GFP'"}],"mark":{"type":"bar","stroke":"#1a1a1a","strokeWidth":1.3},"encoding":{
      "x":{"field":"cond","type":"nominal","scale":{"domain":["Unt","LPS","poly(I:C)","Unt+dTAG-7","LPS+dTAG-7","poly(I:C)+dTAG-7"],"paddingInner":0.375,"paddingOuter":0.18,"align":0.52},"axis":{"title":"+ Dox","titleX":-12,"titleY":16,"titleAlign":"right","titleBaseline":"middle","titleAngle":0,"ticks":false,"labelAngle":0,"labelOverlap":false,"labelPadding":22,"labelExpr":"replace(datum.label, '+dTAG-7', '')"}},
      "xOffset":{"field":"marker","type":"nominal","scale":{"domain":["H-2Kᵇ/S8L","GFP"],"paddingInner":0.33}},
      "y":{"field":"value","type":"quantitative","scale":{"domain":[0,500]},"axis":{"orient":"left","values":[0,100,200,300,400,500],"tickCount":12,"format":"d","title":"MFI-H-2Kᵇ/S8L","titlePadding":9}},
      "color":{"field":"marker","type":"nominal","scale":{"domain":["GFP","H-2Kᵇ/S8L"],"range":["#909090","#f2f2f2"]},"legend":null}}},
     {"data":{"name":"mfi"},"transform":[{"filter":"datum.panel == 'E' && datum.marker != 'GFP'"}],"mark":{"type":"rule","color":"#1a1a1a","strokeWidth":1.3},"encoding":{"x":{"field":"cond","type":"nominal"},"xOffset":{"field":"marker","type":"nominal"},"y":{"field":"value","type":"quantitative"},"y2":{"field":"upper"}}},
     {"data":{"name":"mfi"},"transform":[{"filter":"datum.panel == 'E' && datum.marker != 'GFP'"}],"mark":{"type":"tick","color":"#1a1a1a","size":9,"thickness":1.3},"encoding":{"x":{"field":"cond","type":"nominal"},"xOffset":{"field":"marker","type":"nominal"},"y":{"field":"upper","type":"quantitative"}}},
     {"data":{"name":"mfisig"},"transform":[{"filter":"datum.panel == 'E'"}],"mark":{"type":"rule","color":"#1a1a1a","strokeWidth":1.2,"xOffset":-10.8,"x2Offset":-10.8},"encoding":{"x":{"field":"from","type":"nominal"},"x2":{"field":"to"},"y":{"field":"y","type":"quantitative"}}},
     {"data":{"name":"mfisig"},"transform":[{"filter":"datum.panel == 'E'"},{"fold":["from","to"],"as":["end","pos"]}],"mark":{"type":"rule","color":"#1a1a1a","strokeWidth":1.2,"xOffset":-10.8,"y2Offset":6},"encoding":{"x":{"field":"pos","type":"nominal"},"y":{"field":"y","type":"quantitative"},"y2":{"field":"y"}}},
     {"data":{"name":"mfisig"},"transform":[{"filter":"datum.panel == 'E' && datum.kind == 'narrow'"}],"mark":{"type":"text","fontSize":13,"dy":-5,"color":"#1a1a1a"},"encoding":{"x":{"field":"from","type":"nominal","bandPosition":1},"y":{"field":"y","type":"quantitative"},"text":{"field":"label"}}},
     {"data":{"name":"mfisig"},"transform":[{"filter":"datum.panel == 'E' && datum.kind == 'wide'"}],"mark":{"type":"text","fontSize":13,"dy":-5,"xOffset":-10.8,"color":"#1a1a1a"},"encoding":{"x":{"field":"mid","type":"nominal"},"y":{"field":"y","type":"quantitative"},"text":{"field":"label"}}},
     {"data":{"values":[{}]},"mark":{"type":"rule","color":"#1a1a1a","strokeWidth":1.3},"encoding":{"y":{"datum":-38.6,"type":"quantitative"}}},
     {"data":{"values":[{}]},"mark":{"type":"rule","color":"#1a1a1a","strokeWidth":1.3,"xOffset":-2,"x2Offset":9},"encoding":{"x":{"datum":"Unt+dTAG-7","type":"nominal","bandPosition":0},"x2":{"datum":"poly(I:C)+dTAG-7","bandPosition":1},"y":{"datum":-109,"type":"quantitative"}}},
     {"data":{"values":[{}]},"mark":{"type":"text","fontSize":16,"color":"#1a1a1a","text":"+dTAG-7"},"encoding":{"x":{"datum":"LPS+dTAG-7","type":"nominal"},"y":{"datum":-146,"type":"quantitative"}}}
    ]},
    {"layer":[
     {"data":{"name":"mfi"},"transform":[{"filter":"datum.panel == 'E' && datum.marker == 'GFP'"}],"mark":{"type":"bar","stroke":"#1a1a1a","strokeWidth":1.3},"encoding":{
      "x":{"field":"cond","type":"nominal","axis":{"orient":"top","title":"BMC-2","labels":false,"ticks":false,"domain":false,"titlePadding":25}},
      "xOffset":{"field":"marker","type":"nominal"},
      "y":{"field":"value","type":"quantitative","scale":{"domain":[0,300]},"axis":{"orient":"right","values":[0,100,200,300],"tickCount":12,"format":"d","title":"MFI-GFP","titlePadding":7}},
      "color":{"field":"marker","type":"nominal","scale":{"domain":["GFP","H-2Kᵇ/S8L"],"range":["#909090","#f2f2f2"]},"legend":null}}},
     {"data":{"name":"mfi"},"transform":[{"filter":"datum.panel == 'E' && datum.marker == 'GFP'"}],"mark":{"type":"rule","color":"#1a1a1a","strokeWidth":1.3},"encoding":{"x":{"field":"cond","type":"nominal"},"xOffset":{"field":"marker","type":"nominal"},"y":{"field":"value","type":"quantitative"},"y2":{"field":"upper"}}},
     {"data":{"name":"mfi"},"transform":[{"filter":"datum.panel == 'E' && datum.marker == 'GFP'"}],"mark":{"type":"tick","color":"#1a1a1a","size":9,"thickness":1.3},"encoding":{"x":{"field":"cond","type":"nominal"},"xOffset":{"field":"marker","type":"nominal"},"y":{"field":"upper","type":"quantitative"}}}
    ]}
   ]},
   {"width":348,"height":198,"title":{"text":"F","anchor":"start","align":"left","dx":-70,"fontWeight":"bold","fontSize":17,"offset":-20.5},"resolve":{"scale":{"y":"independent"},"axis":{"x":"independent"}},"layer":[
    {"layer":[
     {"data":{"name":"mfi"},"transform":[{"filter":"datum.panel == 'F' && datum.marker != 'GFP'"}],"mark":{"type":"bar","stroke":"#1a1a1a","strokeWidth":1.3},"encoding":{
      "x":{"field":"cond","type":"nominal","scale":{"domain":["Unt","LPS","poly(I:C)","Unt+dTAG-7","LPS+dTAG-7","poly(I:C)+dTAG-7"],"paddingInner":0.377,"paddingOuter":0.19,"align":0.58},"axis":{"title":"+ Dox","titleX":-4,"titleY":16,"titleAlign":"right","titleBaseline":"middle","titleAngle":0,"ticks":false,"labelAngle":0,"labelOverlap":false,"labelPadding":22,"labelExpr":"replace(datum.label, '+dTAG-7', '')"}},
      "xOffset":{"field":"marker","type":"nominal","scale":{"domain":["H-2Kᵇ/S8L","GFP"],"paddingInner":0.33}},
      "y":{"field":"value","type":"quantitative","scale":{"domain":[0,100]},"axis":{"orient":"left","values":[0,20,40,60,80,100],"tickCount":12,"format":"d","title":"MFI-H-2Kᵇ/S8L","titlePadding":0}},
      "color":{"field":"marker","type":"nominal","scale":{"domain":["GFP","H-2Kᵇ/S8L"],"range":["#909090","#f2f2f2"]},"legend":null}}},
     {"data":{"name":"mfi"},"transform":[{"filter":"datum.panel == 'F' && datum.marker != 'GFP'"}],"mark":{"type":"rule","color":"#1a1a1a","strokeWidth":1.3},"encoding":{"x":{"field":"cond","type":"nominal"},"xOffset":{"field":"marker","type":"nominal"},"y":{"field":"value","type":"quantitative"},"y2":{"field":"upper"}}},
     {"data":{"name":"mfi"},"transform":[{"filter":"datum.panel == 'F' && datum.marker != 'GFP'"}],"mark":{"type":"tick","color":"#1a1a1a","size":9,"thickness":1.3},"encoding":{"x":{"field":"cond","type":"nominal"},"xOffset":{"field":"marker","type":"nominal"},"y":{"field":"upper","type":"quantitative"}}},
     {"data":{"name":"mfisig"},"transform":[{"filter":"datum.panel == 'F'"}],"mark":{"type":"rule","color":"#1a1a1a","strokeWidth":1.2,"xOffset":-10.8,"x2Offset":-10.8},"encoding":{"x":{"field":"from","type":"nominal"},"x2":{"field":"to"},"y":{"field":"y","type":"quantitative"}}},
     {"data":{"name":"mfisig"},"transform":[{"filter":"datum.panel == 'F'"},{"fold":["from","to"],"as":["end","pos"]}],"mark":{"type":"rule","color":"#1a1a1a","strokeWidth":1.2,"xOffset":-10.8,"y2Offset":6},"encoding":{"x":{"field":"pos","type":"nominal"},"y":{"field":"y","type":"quantitative"},"y2":{"field":"y"}}},
     {"data":{"name":"mfisig"},"transform":[{"filter":"datum.panel == 'F' && datum.kind == 'narrow'"}],"mark":{"type":"text","fontSize":13,"dy":-5,"color":"#1a1a1a"},"encoding":{"x":{"field":"from","type":"nominal","bandPosition":1},"y":{"field":"y","type":"quantitative"},"text":{"field":"label"}}},
     {"data":{"name":"mfisig"},"transform":[{"filter":"datum.panel == 'F' && datum.kind == 'wide'"}],"mark":{"type":"text","fontSize":13,"dy":-5,"xOffset":-10.8,"color":"#1a1a1a"},"encoding":{"x":{"field":"mid","type":"nominal"},"y":{"field":"y","type":"quantitative"},"text":{"field":"label"}}},
     {"data":{"values":[{}]},"mark":{"type":"rule","color":"#1a1a1a","strokeWidth":1.3},"encoding":{"y":{"datum":-8.6,"type":"quantitative"}}},
     {"data":{"values":[{}]},"mark":{"type":"rule","color":"#1a1a1a","strokeWidth":1.3,"xOffset":-2,"x2Offset":9},"encoding":{"x":{"datum":"Unt+dTAG-7","type":"nominal","bandPosition":0},"x2":{"datum":"poly(I:C)+dTAG-7","bandPosition":1},"y":{"datum":-22.2,"type":"quantitative"}}},
     {"data":{"values":[{}]},"mark":{"type":"text","fontSize":16,"color":"#1a1a1a","text":"+dTAG-7"},"encoding":{"x":{"datum":"LPS+dTAG-7","type":"nominal"},"y":{"datum":-29.3,"type":"quantitative"}}}
    ]},
    {"layer":[
     {"data":{"name":"mfi"},"transform":[{"filter":"datum.panel == 'F' && datum.marker == 'GFP'"}],"mark":{"type":"bar","stroke":"#1a1a1a","strokeWidth":1.3},"encoding":{
      "x":{"field":"cond","type":"nominal","axis":{"orient":"top","title":"MC57G","labels":false,"ticks":false,"domain":false,"titlePadding":25}},
      "xOffset":{"field":"marker","type":"nominal"},
      "y":{"field":"value","type":"quantitative","scale":{"domain":[0,80]},"axis":{"orient":"right","values":[0,20,40,60,80],"tickCount":12,"format":"d","title":"MFI-GFP","titlePadding":13}},
      "color":{"field":"marker","type":"nominal","scale":{"domain":["GFP","H-2Kᵇ/S8L"],"range":["#909090","#f2f2f2"]},"legend":null}}},
     {"data":{"name":"mfi"},"transform":[{"filter":"datum.panel == 'F' && datum.marker == 'GFP'"}],"mark":{"type":"rule","color":"#1a1a1a","strokeWidth":1.3},"encoding":{"x":{"field":"cond","type":"nominal"},"xOffset":{"field":"marker","type":"nominal"},"y":{"field":"value","type":"quantitative"},"y2":{"field":"upper"}}},
     {"data":{"name":"mfi"},"transform":[{"filter":"datum.panel == 'F' && datum.marker == 'GFP'"}],"mark":{"type":"tick","color":"#1a1a1a","size":9,"thickness":1.3},"encoding":{"x":{"field":"cond","type":"nominal"},"xOffset":{"field":"marker","type":"nominal"},"y":{"field":"upper","type":"quantitative"}}}
    ]}
   ]}
]}
]
}
